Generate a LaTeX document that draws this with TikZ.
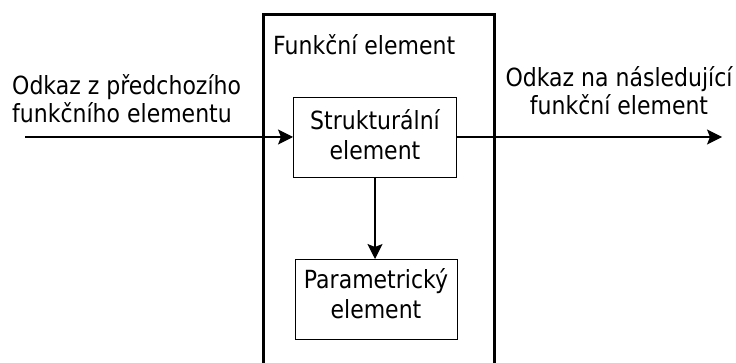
\documentclass[tikz,border=0pt]{standalone}
\usepackage{fontspec}
\setmainfont{DejaVu Sans}
\newfontfamily\lblfont[FakeStretch=0.88]{DejaVu Sans}
\usetikzlibrary{arrows.meta}
\begin{document}
\begin{tikzpicture}[x=1pt,y=1pt,
  lbl/.style={inner sep=0pt, font=\lblfont\fontsize{25}{28}\selectfont},
  boxlbl/.style={inner sep=0pt, font=\lblfont\fontsize{25}{30}\selectfont},
  box/.style={draw, line width=1.3pt, inner sep=0pt},
  conn/.style={line width=1.3pt, -{Stealth[length=15pt,width=15pt,inset=3pt]}}]
\clip (0,0) rectangle (736,-363);
\fill[white] (0,0) rectangle (736,-363);
\node[draw, line width=3pt, minimum width=231pt, minimum height=380pt, anchor=north west, inner sep=0pt] (outer) at (261.5,-13.5) {};
\node[lbl, anchor=base west] (ftitle) at (273,-55) {Funkční element};
\node[box, minimum width=163pt, minimum height=80pt, anchor=north west] (s) at (293,-97) {};
\node[boxlbl, anchor=base, align=center] (stxt) at (375,-160) {Strukturální\\element};
\node[box, minimum width=162pt, minimum height=80pt, anchor=north west] (p) at (295,-259) {};
\node[boxlbl, anchor=base, align=center] (ptxt) at (376,-318) {Parametrický\\element};
\node[lbl, anchor=base west, align=left] (lt) at (12,-123) {Odkaz z předchozího\\funkčního elementu};
\node[lbl, anchor=base, align=center] (rt) at (619,-115) {Odkaz na následující\\funkční element};
\coordinate (lstart) at (25,-137);
\coordinate (rend) at (722,-137);
\draw[conn] (lstart) -- (s.west |- lstart);
\draw[conn] (s.east |- rend) -- (rend);
\draw[conn] (s.south -| 375,0) -- (p.north -| 375,0);
\end{tikzpicture}
\end{document}
